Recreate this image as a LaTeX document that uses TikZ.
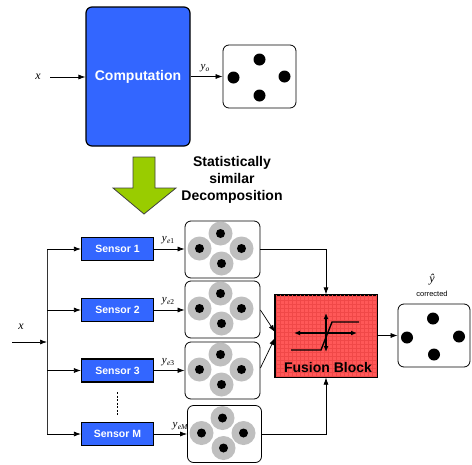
\documentclass[tikz,border=0pt]{standalone}
\usepackage{fontspec}
\setmainfont{Liberation Sans}
\newfontfamily\tms{Liberation Serif}
\usetikzlibrary{arrows.meta,calc}
\definecolor{blk}{RGB}{51,102,255}
\definecolor{grn}{RGB}{153,204,0}
\definecolor{fred}{RGB}{255,88,88}
\definecolor{fgrid}{RGB}{240,72,72}
\definecolor{dgray}{RGB}{191,191,191}
\newcommand\ylab[1]{{\fontsize{11}{11}\selectfont\tms\itshape y\kern0.2pt\raisebox{-2pt}{\fontsize{7.5}{7.5}\selectfont #1}}}
\tikzset{
  conn/.style={draw=black,line width=0.7pt,-{Latex[length=7pt,width=5pt]}},
  plain/.style={draw=black,line width=0.7pt},
  bluebox/.style={draw=black,line width=1.2pt,fill=blk,text=white,font=\fontsize{10.5}{12}\selectfont\bfseries,minimum width=72pt,minimum height=23pt,inner sep=0pt},
  dotbox/.style={draw=black,line width=0.8pt,fill=white,rounded corners=6pt,inner sep=0pt},
  bigdot/.style={fill=black},
}
\begin{document}
\begin{tikzpicture}[x=1pt,y=-1pt]
\useasboundingbox (0,0) rectangle (472,464);
% top part
\node[draw=black,line width=1.2pt,fill=blk,rounded corners=6pt,minimum width=104pt,minimum height=139pt,inner sep=0pt,text=white,font=\fontsize{14}{16}\selectfont\bfseries] (comp) at (138,76.5) {Computation};
\node[font=\fontsize{12}{12}\selectfont\tms\itshape] (xin) at (38,77) {x};
\draw[conn] (xin.east) ++(6,0) coordinate (xs) -- (comp.west |- xs);
\node[dotbox,minimum width=73pt,minimum height=63pt] (out1) at (259.5,76.5) {};
\draw[conn] (comp.east |- out1.west) -- (out1.west);
\node (yo) at (205,68) {\ylab{o}};
\foreach \dx/\dy in {0/-17,-26/1,25/0,0/19}
  \fill[bigdot] ($(out1.center)+(\dx,\dy)$) circle (6);
% green arrow
\draw[fill=grn,draw=black!75,line width=0.8pt] (133,157) -- (155,157) -- (155,188) -- (176,188) -- (144,214) -- (113,188) -- (133,188) -- cycle;
\node[align=center,font=\fontsize{14}{17}\selectfont\bfseries] (dec) at (232,180) {Statistically\\similar\\Decomposition};
% sensors
\node[bluebox] (s1) at (117.5,249) {Sensor 1};
\node[bluebox] (s2) at (117.5,310) {Sensor 2};
\node[bluebox] (s3) at (117.5,370.5) {Sensor 3};
\node[bluebox] (sM) at (117.5,434) {Sensor M};
\draw[line width=1pt,dash pattern=on 2pt off 1.5pt] (117,392) -- (117,416);
% bus
\coordinate (btop) at (47,249);
\coordinate (bbot) at (47,434);
\coordinate (bin) at (47,342);
\coordinate (xst) at (12,342);
\draw[plain,draw=black!80,line width=0.9pt] (btop) -- (bbot);
\draw[conn] (xst) -- (bin);
\node[font=\fontsize{12}{12}\selectfont\tms\itshape] (x2) at (21,327) {x};
\draw[conn] (btop) -- (s1.west);
\draw[conn] (s2.west -| bin) -- (s2.west);
\draw[conn] (s3.west -| bin) -- (s3.west);
\draw[conn] (bbot) -- (sM.west);
% sensor output boxes
\node[dotbox,minimum width=75pt,minimum height=57pt] (b1) at (222.5,249.5) {};
\node[dotbox,minimum width=75pt,minimum height=57pt] (b2) at (222.5,309.5) {};
\node[dotbox,minimum width=75pt,minimum height=57pt] (b3) at (222.5,370.5) {};
\node[dotbox,minimum width=74pt,minimum height=57pt] (b4) at (224.5,434) {};
\foreach \b in {b1,b2,b3,b4}{
  \foreach \dx/\dy in {-2/-16,-23/-1,19/-1,-1/14}
    \fill[dgray] ($(\b.center)+(\dx,\dy)$) circle (12);
  \foreach \dx/\dy in {-2/-16,-23/-1,19/-1,-1/14}
    \fill[bigdot] ($(\b.center)+(\dx,\dy)$) circle (4.5);
}
\draw[conn] (s1.east) -- (s1.east -| b1.west);
\draw[conn] (s2.east) -- (s2.east -| b2.west);
\draw[conn] (s3.east) -- (s3.east -| b3.west);
\draw[conn] (sM.east) -- (sM.east -| b4.west);
\node (l1) at (168,240) {\ylab{e\upshape 1}};
\node (l2) at (168,301) {\ylab{e\upshape 2}};
\node (l3) at (168,362) {\ylab{e\upshape 3}};
\node (l4) at (180,426) {\ylab{eM}};
% fusion block
\node[draw=black,line width=1.2pt,fill=fred,minimum width=101pt,minimum height=82pt,inner sep=0pt] (fus) at (326,336) {};
\begin{scope}
\clip (fus.south west) rectangle (fus.north east);
\draw[fgrid,line width=0.25pt,step=4pt] (fus.south west) grid (fus.north east);
\end{scope}
\draw[line width=1.2pt] (fus.south west) rectangle (fus.north east);
\node[font=\fontsize{14}{16}\selectfont\bfseries] (flab) at (328,367) {Fusion Block};
\draw[line width=1.4pt,{Latex[length=6pt,width=5pt]}-{Latex[length=6pt,width=5pt]}] (294,333) -- (357,333);
\draw[line width=1.4pt,{Latex[length=6pt,width=5pt]}-{Latex[length=6pt,width=5pt]}] (326,313) -- (326,352);
\draw[line width=1.4pt] (291,350) -- (321,350) -- (332,322) -- (359,322);
% connections into fusion
\draw[conn] (b1.east) -| (fus.north);
\draw[conn] (b4.east) -| (fus.south);
\draw[conn] ($(b2.east)+(0,0.5)$) -- ($(fus.west)+(0,-4)$);
\draw[conn] ($(b3.east)+(0,-2.5)$) -- ($(fus.west)+(0,2)$);
% output
\node[dotbox,minimum width=72pt,minimum height=63pt] (out2) at (434,335.5) {};
\draw[conn] (fus.east |- out2.west) -- (out2.west);
\foreach \dx/\dy in {-1/-17,-27/2,25/1,0/19}
  \fill[bigdot] ($(out2.center)+(\dx,\dy)$) circle (6);
\node[font=\fontsize{12}{12}\selectfont\tms\itshape] (yhat) at (432,280) {ŷ};
\node[font=\fontsize{7.5}{8}\selectfont] (corr) at (432,294) {corrected};
\end{tikzpicture}
\end{document}
